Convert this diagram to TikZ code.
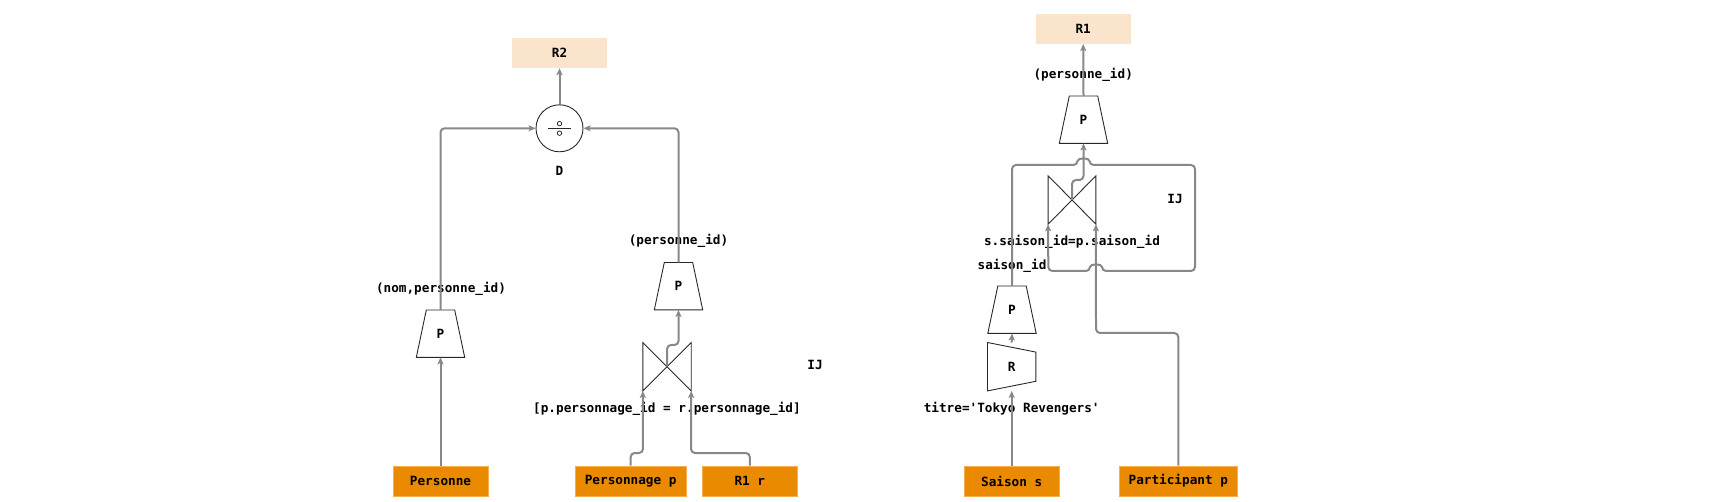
\documentclass[tikz,border=0pt]{standalone}
\usepackage{fontspec}
\newfontfamily\monof{DejaVu Sans Mono}
\usetikzlibrary{arrows.meta}
\definecolor{linegray}{RGB}{136,136,136}
\definecolor{peach}{RGB}{250,229,204}
\definecolor{orangebox}{RGB}{233,138,0}
\definecolor{orangeedge}{RGB}{245,175,80}
\definecolor{outline}{RGB}{40,40,40}
\tikzset{
  x=1pt, y=-1pt,
  txt/.style={font=\monof\bfseries\fontsize{12.7}{15}\selectfont, text=black, inner sep=0pt},
  result/.style={txt, fill=peach, minimum width=95pt, minimum height=30pt},
  source/.style={txt, fill=orangebox, draw=orangeedge, line width=0.6pt, minimum height=30pt},
  opbox/.style={txt, minimum width=48pt, minimum height=47pt},
  conn/.style={draw=linegray, line width=2pt, rounded corners=4pt, -{Stealth[length=7pt,width=6pt,inset=1.5pt]}},
  shp/.style={draw=outline, line width=0.9pt, line join=miter},
}
\newcommand{\trapz}[1]{\draw[shp] ([xshift=10pt]#1.north west) -- ([xshift=-10pt]#1.north east) -- (#1.south east) -- (#1.south west) -- cycle;}
\newcommand{\bowt}[1]{\draw[shp] (#1.north west) -- (#1.south east) -- (#1.north east) -- (#1.south west) -- cycle;}
\newcommand{\rsel}[1]{\draw[shp] (#1.north west) -- ([yshift=-9.6pt]#1.north east) -- ([yshift=9.6pt]#1.south east) -- (#1.south west) -- cycle;}
\begin{document}
\begin{tikzpicture}
\useasboundingbox (0,0) rectangle (1724,502);

% ---------------- left diagram ----------------
\node[result] (r2) at (559.5,53) {R2};
\node[draw=outline, line width=0.9pt, circle, minimum size=47pt, inner sep=0pt] (div) at (559.5,128.3) {};
\draw[outline, line width=0.9pt] (548,128.5) -- (571,128.5);
\draw[outline, line width=0.8pt] (559.5,123.6) circle (2.2pt) (559.5,133.2) circle (2.2pt);
\node[txt] (dlab) at (559.5,171) {D};

\node[opbox] (p1) at (440.5,333.7) {P};
\trapz{p1}
\node[opbox] (p2) at (678.5,286.2) {P};
\trapz{p2}
\node[opbox, minimum height=48pt] (bt1) at (667,366.7) {};
\bowt{bt1}

\node[source, minimum width=95pt] (pers) at (440.5,481) {Personne};
\node[source, minimum width=110.7pt] (persp) at (630.7,481) {Personnage p};
\node[source, minimum width=95pt] (r1r) at (749.8,481) {R1 r};

\node[txt] (l1) at (441,289) {(nom,personne\_id)};
\node[txt] (l2) at (678.5,241) {(personne\_id)};
\node[txt] (ij1) at (815,365) {IJ};
\node[txt] (l3) at (667,408.5) {[p.personnage\_id = r.personnage\_id]};

\path[conn] (pers.north) -- (p1.south);
\path[conn] (p1.north) -- (440.5,128.3) -- (div.west);
\path[conn] (p2.north) -- (678.5,128.3) -- (div.east);
\path[conn] (div.north) -- (r2.south);
\path[conn] (bt1.center) -- (667,345) -- (678.5,345) -- (p2.south);
\path[conn] (persp.north) -- (630.7,453) -- (643,453) -- (bt1.south west);
\path[conn] (r1r.north) -- (749.8,453) -- (691,453) -- (bt1.south east);

% ---------------- right diagram ----------------
\node[result] (r1) at (1083.2,28.8) {R1};
\node[opbox] (p4) at (1083.5,119.7) {P};
\trapz{p4}
\node[opbox, minimum height=48pt, minimum width=47.4pt] (bt2) at (1072,200) {};
\bowt{bt2}
\node[opbox] (p3) at (1012,309.7) {P};
\trapz{p3}
\node[opbox, minimum height=48pt] (rs) at (1011.7,366.7) {R};
\rsel{rs}

\node[source, minimum width=94.7pt] (sais) at (1011.7,481) {Saison s};
\node[source, minimum width=118.4pt] (part) at (1178.3,481) {Participant p};

\node[txt] (l4) at (1083.2,75) {(personne\_id)};
\node[txt] (ij2) at (1175,199) {IJ};
\node[txt] (l5) at (1072,242) {s.saison\_id=p.saison\_id};
\node[txt] (l6) at (1012,265.5) {saison\_id};
\node[txt] (l7) at (1011.7,408.5) {titre='Tokyo Revengers'};

\path[conn] (sais.north) -- (rs.south);
\path[conn] (rs.north) -- (p3.south);
\path[conn] (bt2.center) -- (1072,180) -- (1083.5,180) -- (p4.south);
\path[conn] (p4.north) -- (r1.south);
\path[conn] (part.north) -- (1178.3,333) -- (1096,333) -- (bt2.south east);
\path[conn] (p3.north) -- (1012,165) -- (1077.5,165)
   .. controls (1077.5,157.5) and (1089.5,157.5) .. (1089.5,165)
   -- (1195,165) -- (1195,271) -- (1102,271)
   .. controls (1102,263.5) and (1090,263.5) .. (1090,271)
   -- (1048.3,271) -- (bt2.south west);
\end{tikzpicture}
\end{document}
